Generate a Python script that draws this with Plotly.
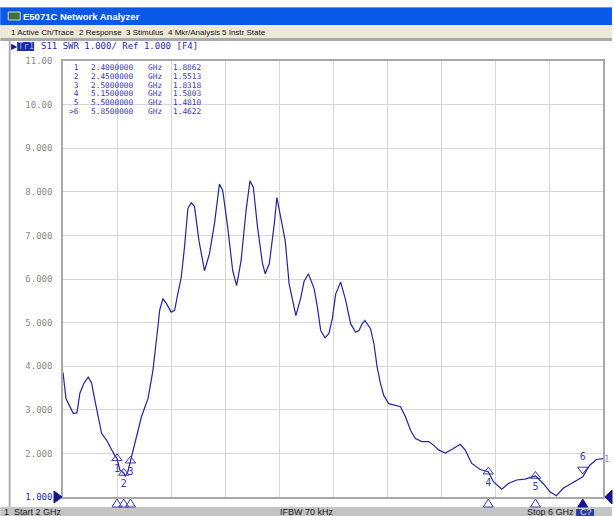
import plotly.graph_objects as go

# ---------------- data ----------------
freq_ghz = [2.000, 2.022, 2.076, 2.103, 2.125, 2.155, 2.187, 2.212, 2.236, 2.286,
            2.323, 2.347, 2.384, 2.400, 2.421, 2.450, 2.461, 2.480, 2.500, 2.524,
            2.553, 2.581, 2.630, 2.666, 2.692, 2.716, 2.740, 2.765, 2.802, 2.827,
            2.851, 2.876, 2.900, 2.925, 2.950, 2.974, 3.007, 3.048, 3.085, 3.122,
            3.159, 3.183, 3.220, 3.257, 3.286, 3.319, 3.356, 3.385, 3.410, 3.441,
            3.478, 3.498, 3.528, 3.565, 3.584, 3.614, 3.646, 3.675, 3.725, 3.762,
            3.786, 3.818, 3.860, 3.884, 3.909, 3.941, 3.970, 3.995, 4.020, 4.057,
            4.094, 4.131, 4.168, 4.192, 4.216, 4.236, 4.278, 4.303, 4.327, 4.352,
            4.376, 4.413, 4.463, 4.500, 4.537, 4.574, 4.610, 4.659, 4.708, 4.745,
            4.782, 4.832, 4.880, 4.942, 4.979, 5.028, 5.090, 5.150, 5.188, 5.250,
            5.299, 5.360, 5.422, 5.500, 5.557, 5.607, 5.655, 5.705, 5.766, 5.815,
            5.850, 5.902, 5.951, 6.000]
swr = [3.86, 3.26, 2.92, 2.93, 3.38, 3.61, 3.75, 3.61, 3.22, 2.46,
       2.30, 2.15, 1.95, 1.886, 1.62, 1.551, 1.47, 1.58, 1.832, 2.15,
       2.55, 2.84, 3.26, 3.90, 4.60, 5.28, 5.55, 5.44, 5.24, 5.28,
       5.67, 6.04, 6.73, 7.62, 7.75, 7.66, 6.88, 6.19, 6.58, 7.27,
       8.18, 8.03, 7.19, 6.19, 5.85, 6.42, 7.57, 8.25, 8.10, 7.19,
       6.35, 6.12, 6.35, 7.26, 7.87, 7.41, 6.88, 5.89, 5.16, 5.58,
       5.95, 6.12, 5.78, 5.36, 4.82, 4.65, 4.75, 5.09, 5.66, 5.93,
       5.51, 4.97, 4.78, 4.82, 4.97, 5.05, 4.86, 4.52, 3.98, 3.60,
       3.33, 3.14, 3.10, 3.07, 2.84, 2.53, 2.34, 2.27, 2.27, 2.19,
       2.08, 2.01, 2.09, 2.21, 2.08, 1.77, 1.63, 1.580, 1.35, 1.18,
       1.31, 1.39, 1.41, 1.481, 1.31, 1.12, 1.03, 1.20, 1.31, 1.39,
       1.462, 1.73, 1.86, 1.88]

marker_ids = ["1", "2", "3", "4", "5", "6"]
marker_freq = [2.40, 2.45, 2.50, 5.15, 5.50, 5.85]
marker_swr = [1.8862, 1.5513, 1.8318, 1.5803, 1.4810, 1.4622]
active_marker = 5  # index of marker 6

y_ticks = [1, 2, 3, 4, 5, 6, 7, 8, 9, 10, 11]
y_tick_labels = ["1.000", "2.000", "3.000", "4.000", "5.000", "6.000",
                 "7.000", "8.000", "9.000", "10.00", "11.00"]

menu_items = ["1 Active Ch/Trace", "2 Response", "3 Stimulus", "4 Mkr/Analysis", "5 Instr State"]

x_start, x_stop = 2.0, 6.0
ref_value = 1.0

# ---------------- layout helpers ----------------
FIG_W, FIG_H = 614, 516
L, R, T, B = 63, 605, 61, 497
W, H = R - L, B - T


def px(x):
    return (x - L) / W


def py(y):
    return (B - y) / H


MONO = "DejaVu Sans Mono"
SANS = "Liberation Sans"
TRACE = "#24249e"
MK = "#3b3bb5"
DARK = "#141494"

fig = go.Figure()

fig.add_trace(go.Scatter(x=freq_ghz, y=swr, mode="lines",
                         line=dict(color=TRACE, width=1.2), hoverinfo="skip"))

# on-trace markers (1-5 pointing up, 6 active pointing down)
n_norm = [i for i in range(len(marker_ids)) if i != active_marker]
fig.add_trace(go.Scatter(
    x=[marker_freq[i] for i in n_norm],
    y=[marker_swr[i] for i in n_norm],
    mode="markers+text",
    marker=dict(symbol="triangle-up-open", size=9, color=MK, line=dict(width=1, color=MK)),
    text=[marker_ids[i] for i in n_norm], textposition="bottom center",
    textfont=dict(family=MONO, size=10, color=MK), cliponaxis=False, hoverinfo="skip"))
fig.add_trace(go.Scatter(
    x=[marker_freq[active_marker]], y=[marker_swr[active_marker] + 0.17],
    mode="markers+text",
    marker=dict(symbol="triangle-down-open", size=9, color=MK, line=dict(width=1, color=MK)),
    text=[marker_ids[active_marker]], textposition="top center",
    textfont=dict(family=MONO, size=10, color=MK), cliponaxis=False, hoverinfo="skip"))

tick_text = []
for v, t in zip(y_ticks, y_tick_labels):
    if v == ref_value:
        tick_text.append("<span style='color:#2b2bb0'>" + t + "</span>")
    else:
        tick_text.append(t)

fig.update_layout(
    width=FIG_W, height=FIG_H,
    margin=dict(l=L, r=FIG_W - R, t=T, b=FIG_H - B),
    paper_bgcolor="white", plot_bgcolor="white",
    showlegend=False,
    xaxis=dict(range=[x_start, x_stop], dtick=0.4, tick0=2, showgrid=True, gridcolor="#d6d6d6",
               gridwidth=1, zeroline=False, showticklabels=False, ticks="",
               showline=True, linecolor="#a8a8a8", linewidth=1.5, mirror=True),
    yaxis=dict(range=[ref_value, 11], tickvals=y_ticks, ticktext=tick_text, showgrid=True,
               gridcolor="#d6d6d6", gridwidth=1, zeroline=False, ticks="",
               ticklabelstandoff=7,
               tickfont=dict(family=MONO, size=9, color="#8a8a8a"),
               showline=True, linecolor="#a8a8a8", linewidth=1.5, mirror=True),
)

shapes = []
# title bar
shapes.append(dict(type="rect", xref="paper", yref="paper", x0=px(0), x1=px(FIG_W),
                   y0=py(25), y1=py(7), fillcolor="#0a58e6", line=dict(width=0), layer="above"))
shapes.append(dict(type="rect", xref="paper", yref="paper", x0=px(0), x1=px(FIG_W),
                   y0=py(8), y1=py(7), fillcolor="#5b9cf5", line=dict(width=0), layer="above"))
# icon
shapes.append(dict(type="rect", xref="paper", yref="paper", x0=px(8), x1=px(20),
                   y0=py(20), y1=py(12), fillcolor="#3f6f3f", line=dict(width=1, color="#cfd8cf"),
                   layer="above"))
# menu bar
shapes.append(dict(type="rect", xref="paper", yref="paper", x0=px(0), x1=px(FIG_W),
                   y0=py(38), y1=py(25), fillcolor="#ece9d8", line=dict(width=0), layer="above"))
shapes.append(dict(type="rect", xref="paper", yref="paper", x0=px(0), x1=px(FIG_W),
                   y0=py(41), y1=py(38), fillcolor="#a9a9a9", line=dict(width=0), layer="above"))
# left window border
shapes.append(dict(type="line", xref="paper", yref="paper", x0=px(9.5), x1=px(9.5),
                   y0=py(508), y1=py(41), line=dict(color="#b0b0b0", width=2), layer="above"))
# status bar
shapes.append(dict(type="rect", xref="paper", yref="paper", x0=px(0), x1=px(FIG_W),
                   y0=py(FIG_H), y1=py(507), fillcolor="#c4c4c4", line=dict(width=0), layer="above"))
shapes.append(dict(type="rect", xref="paper", yref="paper", x0=px(578), x1=px(596),
                   y0=py(FIG_H), y1=py(509), fillcolor="#2a3a9a", line=dict(width=0), layer="above"))
# Tr1 highlight
shapes.append(dict(type="rect", xref="paper", yref="paper", x0=px(17), x1=px(34),
                   y0=py(51), y1=py(42), fillcolor="#1c2c9c", line=dict(width=0), layer="above"))

# marker position indicators below the axis (anchored at marker frequencies)
for i, f in enumerate(marker_freq):
    filled = (i == active_marker)
    shapes.append(dict(type="path", xref="x", yref="paper", xsizemode="pixel", ysizemode="pixel",
                       xanchor=f, yanchor=0, path="M -5,-10 L 5,-10 L 0,-2 Z",
                       fillcolor=DARK if filled else "rgba(0,0,0,0)",
                       line=dict(color=DARK if filled else MK, width=1), layer="above"))
# reference-level arrows (reference value sits on the bottom edge of the grid)
shapes.append(dict(type="path", xref="paper", yref="paper", xsizemode="pixel", ysizemode="pixel",
                   xanchor=0, yanchor=0, path="M -9,6 L -9,-6 L -1,0 Z",
                   fillcolor=DARK, line=dict(color=DARK, width=1), layer="above"))
shapes.append(dict(type="path", xref="paper", yref="paper", xsizemode="pixel", ysizemode="pixel",
                   xanchor=1, yanchor=0, path="M 9,7 L 9,-7 L 2,0 Z",
                   fillcolor=DARK, line=dict(color=DARK, width=1), layer="above"))
fig.update_layout(shapes=shapes)

ann = []


def text(x, y, s, size=9, color="black", family=MONO, xanchor="left", bold=False):
    if bold:
        s = "<b>" + s + "</b>"
    ann.append(dict(x=px(x), y=py(y), xref="paper", yref="paper", text=s, showarrow=False,
                    xanchor=xanchor, yanchor="middle", font=dict(family=family, size=size, color=color),
                    borderpad=0))


text(22, 16, "E5071C Network Analyzer", size=9.5, color="white", family=SANS, bold=True)
menu_x = [10, 78, 125, 167, 222]
for mx, item in zip(menu_x, menu_items):
    text(mx, 32, item, size=8, color="#111111", family=SANS)
text(10, 46.5, "▶", size=8, color=DARK, family=SANS)
text(17, 46.5, "Tr1", size=9, color="#8fb0ff", family=MONO)
text(40, 46.5, "S11 SWR 1.000/ Ref 1.000 [F4]", size=9, color="#2b2bb0", family=MONO)

# marker readout table
for i, (mid, f, v) in enumerate(zip(marker_ids, marker_freq, marker_swr)):
    yy = 68 + i * 8.6
    label = (">" if i == active_marker else " ") + mid
    text(68, yy, label, size=7.8, color=MK)
    text(90, yy, f"{f:.7f}", size=7.8, color=MK)
    text(147, yy, "GHz", size=7.8, color=MK)
    text(172, yy, f"{v:.4f}", size=7.8, color=MK)

# trace end label
text(605, 459, "1", size=9, color="#8a8ad8", family=MONO)

# status bar
text(3, 512, "1  Start 2 GHz", size=9, color="#111111", family=SANS)
text(280, 512, "IFBW 70 kHz", size=9, color="#111111", family=SANS)
text(528, 512, "Stop 6 GHz", size=9, color="#111111", family=SANS)
text(581, 512, "C?", size=9, color="#e0e0ff", family=SANS)

fig.update_layout(annotations=ann)

fig.write_html("out.html", config={"displayModeBar": False},
               post_script="document.body.style.margin='0';document.body.style.overflow='hidden';")
